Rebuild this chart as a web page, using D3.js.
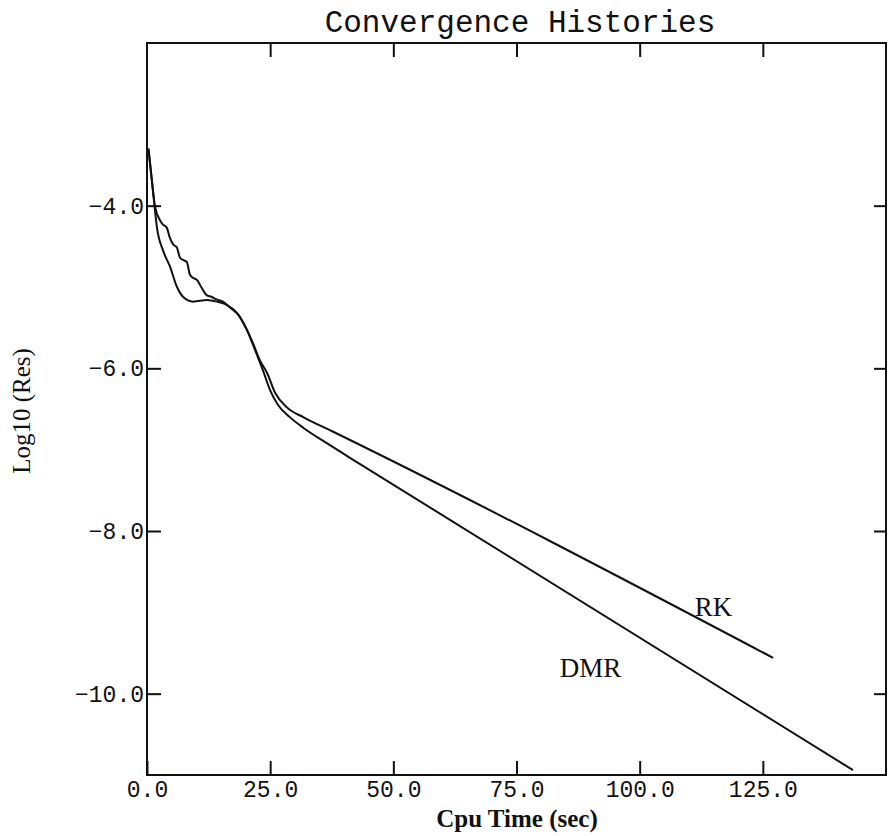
<!DOCTYPE html>
<html lang="en">
<head>
    <meta charset="UTF-8">
    <title>Convergence Histories</title>
    <script src="https://d3js.org/d3.v7.min.js"></script>
    <style>
        body { margin: 0; background: #fff; }
        .tick text { font-family: "Liberation Mono", "DejaVu Sans Mono", monospace; font-size: 23px; fill: #111; }
        .tick line { stroke: #111; stroke-width: 2px; }
    </style>
</head>
<body>
    <svg id="chart"></svg>
    <script>
        // Residual histories (cpu seconds vs log10 residual)
        const dmrTime = [0.3, 1.15, 1.6, 2.0, 3.25, 4.67, 6.09, 7.31, 9.34, 12.2, 14.2, 16.2, 18.3, 20.3, 21.9, 23.5, 25.0, 26.6, 29.0, 31.7, 36.5, 41.2, 143.3];
        const dmrRes  = [-3.3, -3.78, -4.05, -4.26, -4.55, -4.75, -5.0, -5.12, -5.18, -5.16, -5.18, -5.22, -5.32, -5.53, -5.77, -6.02, -6.27, -6.45, -6.60, -6.73, -6.92, -7.10, -10.94];

        const rkTime = [0.3, 1.15, 1.6, 2.64, 3.19, 4.0, 4.67, 5.34, 6.03, 6.70, 7.37, 8.06, 8.73, 9.40, 10.09, 11.1, 12.1, 13.1, 14.0, 15.4, 16.8, 18.5, 20.3, 21.5, 22.9, 24.4, 26.0, 28.4, 31.7, 37.8, 127.1];
        const rkRes  = [-3.3, -3.78, -4.0, -4.18, -4.23, -4.27, -4.40, -4.48, -4.51, -4.64, -4.67, -4.69, -4.85, -4.89, -4.91, -5.01, -5.10, -5.12, -5.15, -5.18, -5.25, -5.34, -5.53, -5.69, -5.90, -6.06, -6.30, -6.48, -6.60, -6.78, -9.56];

        const xTicks = [0, 25, 50, 75, 100, 125];
        const yTicks = [-4, -6, -8, -10];

        const width = 888, height = 836;
        const margin = { top: 43, right: 2, bottom: 61, left: 147 };

        const svg = d3.select("#chart")
            .attr("width", width)
            .attr("height", height);

        const x = d3.scaleLinear()
            .domain([0, 150])
            .range([margin.left, width - margin.right]);

        const y = d3.scaleLinear()
            .domain([-11, -2])
            .range([height - margin.bottom, margin.top]);

        // frame
        svg.append("rect")
            .attr("x", x(0))
            .attr("y", y(-2))
            .attr("width", x(150) - x(0))
            .attr("height", y(-11) - y(-2))
            .attr("fill", "none")
            .attr("stroke", "#111")
            .attr("stroke-width", 2);

        // axes, ticks pointing inward
        const fmt = d3.format(".1f");

        svg.append("g")
            .attr("transform", `translate(0,${y(-11)})`)
            .call(d3.axisBottom(x).tickValues(xTicks).tickFormat(fmt).tickSizeInner(-14).tickSizeOuter(0).tickPadding(6))
            .call(g => g.select(".domain").remove());

        svg.append("g")
            .attr("transform", `translate(0,${y(-2)})`)
            .call(d3.axisTop(x).tickValues(xTicks.slice(1)).tickFormat("").tickSizeInner(-14).tickSizeOuter(0))
            .call(g => g.select(".domain").remove());

        svg.append("g")
            .attr("transform", `translate(${x(0)},0)`)
            .call(d3.axisLeft(y).tickValues(yTicks).tickFormat(fmt).tickSizeInner(-14).tickSizeOuter(0).tickPadding(3))
            .call(g => g.select(".domain").remove());

        svg.append("g")
            .attr("transform", `translate(${x(150)},0)`)
            .call(d3.axisRight(y).tickValues(yTicks).tickFormat("").tickSizeInner(-12).tickSizeOuter(0))
            .call(g => g.select(".domain").remove());

        // curves
        const line = d3.line()
            .x(d => x(d[0]))
            .y(d => y(d[1]))
            .curve(d3.curveMonotoneX);

        const series = [
            { name: "DMR", data: d3.zip(dmrTime, dmrRes) },
            { name: "RK", data: d3.zip(rkTime, rkRes) }
        ];

        svg.selectAll("path.curve")
            .data(series)
            .enter().append("path")
            .attr("class", "curve")
            .attr("fill", "none")
            .attr("stroke", "#111")
            .attr("stroke-width", 2)
            .attr("d", d => line(d.data));

        // curve labels
        svg.append("text")
            .attr("x", x(111.2))
            .attr("y", y(-9.04))
            .attr("font-family", "Liberation Serif, serif")
            .attr("font-size", "27px")
            .attr("fill", "#111")
            .text("RK");

        svg.append("text")
            .attr("x", x(83.8))
            .attr("y", y(-9.8))
            .attr("font-family", "Liberation Serif, serif")
            .attr("font-size", "27px")
            .attr("fill", "#111")
            .text("DMR");

        // title
        svg.append("text")
            .attr("x", 520)
            .attr("y", 32)
            .attr("text-anchor", "middle")
            .attr("font-family", "Liberation Mono, monospace")
            .attr("font-size", "31px")
            .attr("fill", "#111")
            .text("Convergence Histories");

        // axis labels
        svg.append("text")
            .attr("x", 517)
            .attr("y", 827)
            .attr("text-anchor", "middle")
            .attr("font-family", "Liberation Serif, serif")
            .attr("font-size", "25px")
            .attr("font-weight", "bold")
            .attr("fill", "#111")
            .text("Cpu Time (sec)");

        svg.append("text")
            .attr("transform", "translate(30,411) rotate(-90)")
            .attr("text-anchor", "middle")
            .attr("font-family", "Liberation Serif, serif")
            .attr("font-size", "25px")
            .attr("fill", "#111")
            .text("Log10 (Res)");
    </script>
</body>
</html>
